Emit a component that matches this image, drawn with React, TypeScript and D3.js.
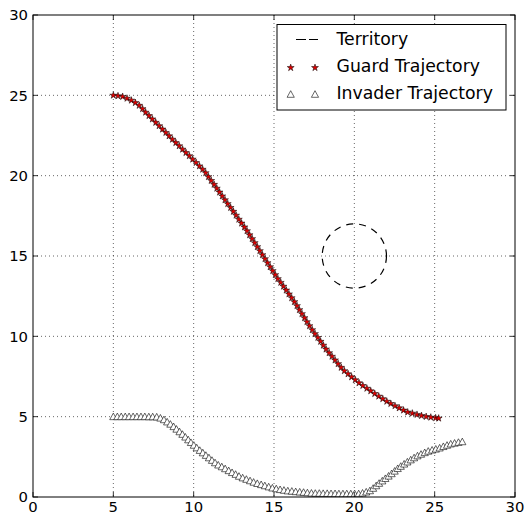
import React from "react";
import * as d3 from "d3";

const guardX = [5.00,5.29,5.58,5.85,6.12,6.37,6.61,6.82,7.01,7.22,7.43,7.64,7.85,8.06,8.27,8.47,8.68,8.89,9.10,9.31,9.52,9.73,9.94,10.15,10.36,10.56,10.75,10.92,11.09,11.27,11.44,11.61,11.78,11.95,12.12,12.30,12.47,12.64,12.81,12.98,13.16,13.32,13.48,13.64,13.80,13.96,14.12,14.28,14.44,14.60,14.76,14.92,15.08,15.24,15.42,15.59,15.76,15.93,16.10,16.27,16.43,16.58,16.74,16.90,17.05,17.21,17.38,17.55,17.73,17.90,18.07,18.24,18.43,18.61,18.80,18.99,19.18,19.38,19.61,19.83,20.06,20.29,20.53,20.78,21.02,21.27,21.52,21.77,22.02,22.27,22.53,22.79,23.06,23.32,23.61,23.90,24.18,24.47,24.76,25.06,25.25];
const guardY = [25.00,24.96,24.92,24.81,24.69,24.54,24.37,24.16,23.94,23.73,23.52,23.31,23.10,22.89,22.68,22.47,22.26,22.05,21.85,21.64,21.43,21.23,21.02,20.81,20.60,20.39,20.17,19.93,19.69,19.45,19.21,18.97,18.73,18.49,18.25,18.01,17.77,17.53,17.28,17.04,16.80,16.56,16.31,16.07,15.82,15.57,15.32,15.07,14.82,14.57,14.32,14.08,13.83,13.58,13.35,13.11,12.87,12.63,12.39,12.15,11.90,11.65,11.40,11.15,10.90,10.65,10.40,10.16,9.92,9.68,9.44,9.20,8.97,8.75,8.52,8.29,8.06,7.85,7.66,7.47,7.29,7.10,6.93,6.76,6.60,6.43,6.27,6.11,5.95,5.81,5.67,5.54,5.40,5.28,5.21,5.13,5.06,5.00,4.96,4.92,4.90];

const invaderX = [5.00,5.25,5.49,5.74,5.98,6.23,6.47,6.72,6.96,7.21,7.45,7.70,7.93,8.15,8.35,8.55,8.75,8.93,9.12,9.30,9.48,9.66,9.83,10.01,10.19,10.38,10.57,10.76,10.95,11.14,11.33,11.53,11.75,11.96,12.18,12.39,12.61,12.82,13.05,13.28,13.51,13.73,13.96,14.20,14.43,14.67,14.90,15.14,15.38,15.62,15.86,16.11,16.35,16.60,16.84,17.08,17.33,17.57,17.82,18.06,18.31,18.55,18.80,19.04,19.29,19.53,19.78,20.02,20.27,20.51,20.74,20.97,21.17,21.36,21.54,21.74,21.93,22.13,22.32,22.51,22.70,22.89,23.10,23.30,23.51,23.72,23.93,24.15,24.38,24.60,24.84,25.07,25.31,25.54,25.77,26.00,26.24,26.48,26.72];
const invaderY = [5.00,5.00,5.00,5.00,5.00,5.00,5.00,5.00,5.00,4.99,4.99,4.98,4.91,4.81,4.67,4.53,4.38,4.22,4.06,3.90,3.73,3.56,3.39,3.22,3.06,2.90,2.75,2.59,2.44,2.28,2.13,1.99,1.88,1.76,1.64,1.52,1.41,1.29,1.19,1.10,1.01,0.92,0.84,0.77,0.70,0.63,0.56,0.51,0.46,0.42,0.38,0.36,0.33,0.31,0.29,0.26,0.24,0.23,0.23,0.22,0.22,0.21,0.21,0.20,0.20,0.20,0.20,0.20,0.20,0.24,0.31,0.39,0.54,0.70,0.85,1.00,1.15,1.30,1.45,1.61,1.77,1.91,2.05,2.18,2.31,2.44,2.56,2.66,2.76,2.85,2.92,2.98,3.05,3.14,3.22,3.30,3.35,3.40,3.44];

const territoryCenter = [20, 15];
const territoryRadius = 2;

const xTicks = [0, 5, 10, 15, 20, 25, 30];
const yTicks = [0, 5, 10, 15, 20, 25, 30];

const legendLabels = ["Territory", "Guard Trajectory", "Invader Trajectory"];

const W = 525, H = 516;
const L = 33, R = 515, T = 15, B = 497;
const FONT = "'DejaVu Sans', sans-serif";

export default function App() {
  const x = d3.scaleLinear().domain([0, 30]).range([L, R]);
  const y = d3.scaleLinear().domain([0, 30]).range([B, T]);
  const star = d3.symbol().type(d3.symbolStar).size(15)();
  const tri = "M0,-3.6L3.6,3L-3.6,3Z";
  const rPix = x(territoryCenter[0] + territoryRadius) - x(territoryCenter[0]);
  const tickLen = 5;

  return (
    <svg width={W} height={H} style={{ position: "absolute", left: 0, top: 0, background: "#fff" }}>
      <rect x={0} y={0} width={W} height={H} fill="#fff" />
      <g stroke="#000" strokeWidth={0.6} strokeDasharray="1,3">
        {xTicks.slice(1, -1).map((t) => (
          <line key={"gx" + t} x1={x(t)} x2={x(t)} y1={T} y2={B} />
        ))}
        {yTicks.slice(1, -1).map((t) => (
          <line key={"gy" + t} x1={L} x2={R} y1={y(t)} y2={y(t)} />
        ))}
      </g>
      <defs>
        <clipPath id="plotclip">
          <rect x={L} y={T} width={R - L} height={B - T} />
        </clipPath>
      </defs>
      <g clipPath="url(#plotclip)">
        <circle cx={x(territoryCenter[0])} cy={y(territoryCenter[1])} r={rPix} fill="none" stroke="#000" strokeWidth={1.2} strokeDasharray="7,6" />
        {invaderX.map((v, i) => (
          <path key={"i" + i} d={tri} transform={`translate(${x(v)},${y(invaderY[i])})`} fill="#fff" stroke="#000" strokeWidth={0.6} />
        ))}
        {guardX.map((v, i) => (
          <path key={"g" + i} d={star} transform={`translate(${x(v)},${y(guardY[i])})`} fill="#e00000" stroke="#000" strokeWidth={0.5} />
        ))}
      </g>
      <g stroke="#000" strokeWidth={0.8}>
        {xTicks.map((t) => (
          <g key={"tx" + t}>
            <line x1={x(t)} x2={x(t)} y1={B} y2={B - tickLen} />
            <line x1={x(t)} x2={x(t)} y1={T} y2={T + tickLen} />
          </g>
        ))}
        {yTicks.map((t) => (
          <g key={"ty" + t}>
            <line x1={L} x2={L + tickLen} y1={y(t)} y2={y(t)} />
            <line x1={R} x2={R - tickLen} y1={y(t)} y2={y(t)} />
          </g>
        ))}
      </g>
      <rect x={L} y={T} width={R - L} height={B - T} fill="none" stroke="#000" strokeWidth={1} />
      <g fontFamily={FONT} fontSize={14.8} fill="#000">
        {xTicks.map((t) => (
          <text key={"lx" + t} x={x(t)} y={B + 15.3} textAnchor="middle">{t}</text>
        ))}
        {yTicks.map((t) => (
          <text key={"ly" + t} x={L - 5} y={y(t) + 5.4} textAnchor="end">{t}</text>
        ))}
      </g>
      <g>
        <rect x={277} y={24.5} width={229} height={85.5} fill="#fff" stroke="#000" strokeWidth={1} />
        <line x1={287} x2={318} y1={39.5} y2={39.5} stroke="#000" strokeWidth={1.2} strokeDasharray="0,9,10,3,10" />
        <path d={star} transform="translate(290.7,67.7)" fill="#e00000" stroke="#000" strokeWidth={0.5} />
        <path d={star} transform="translate(315,67.7)" fill="#e00000" stroke="#000" strokeWidth={0.5} />
        <path d={tri} transform="translate(290.7,94.3)" fill="#fff" stroke="#000" strokeWidth={0.6} />
        <path d={tri} transform="translate(315,94.3)" fill="#fff" stroke="#000" strokeWidth={0.6} />
        <g fontFamily={FONT} fontSize={17.3} fill="#000">
          <text x={336.5} y={45}>{legendLabels[0]}</text>
          <text x={336.5} y={72}>{legendLabels[1]}</text>
          <text x={336.5} y={98.5}>{legendLabels[2]}</text>
        </g>
      </g>
    </svg>
  );
}
